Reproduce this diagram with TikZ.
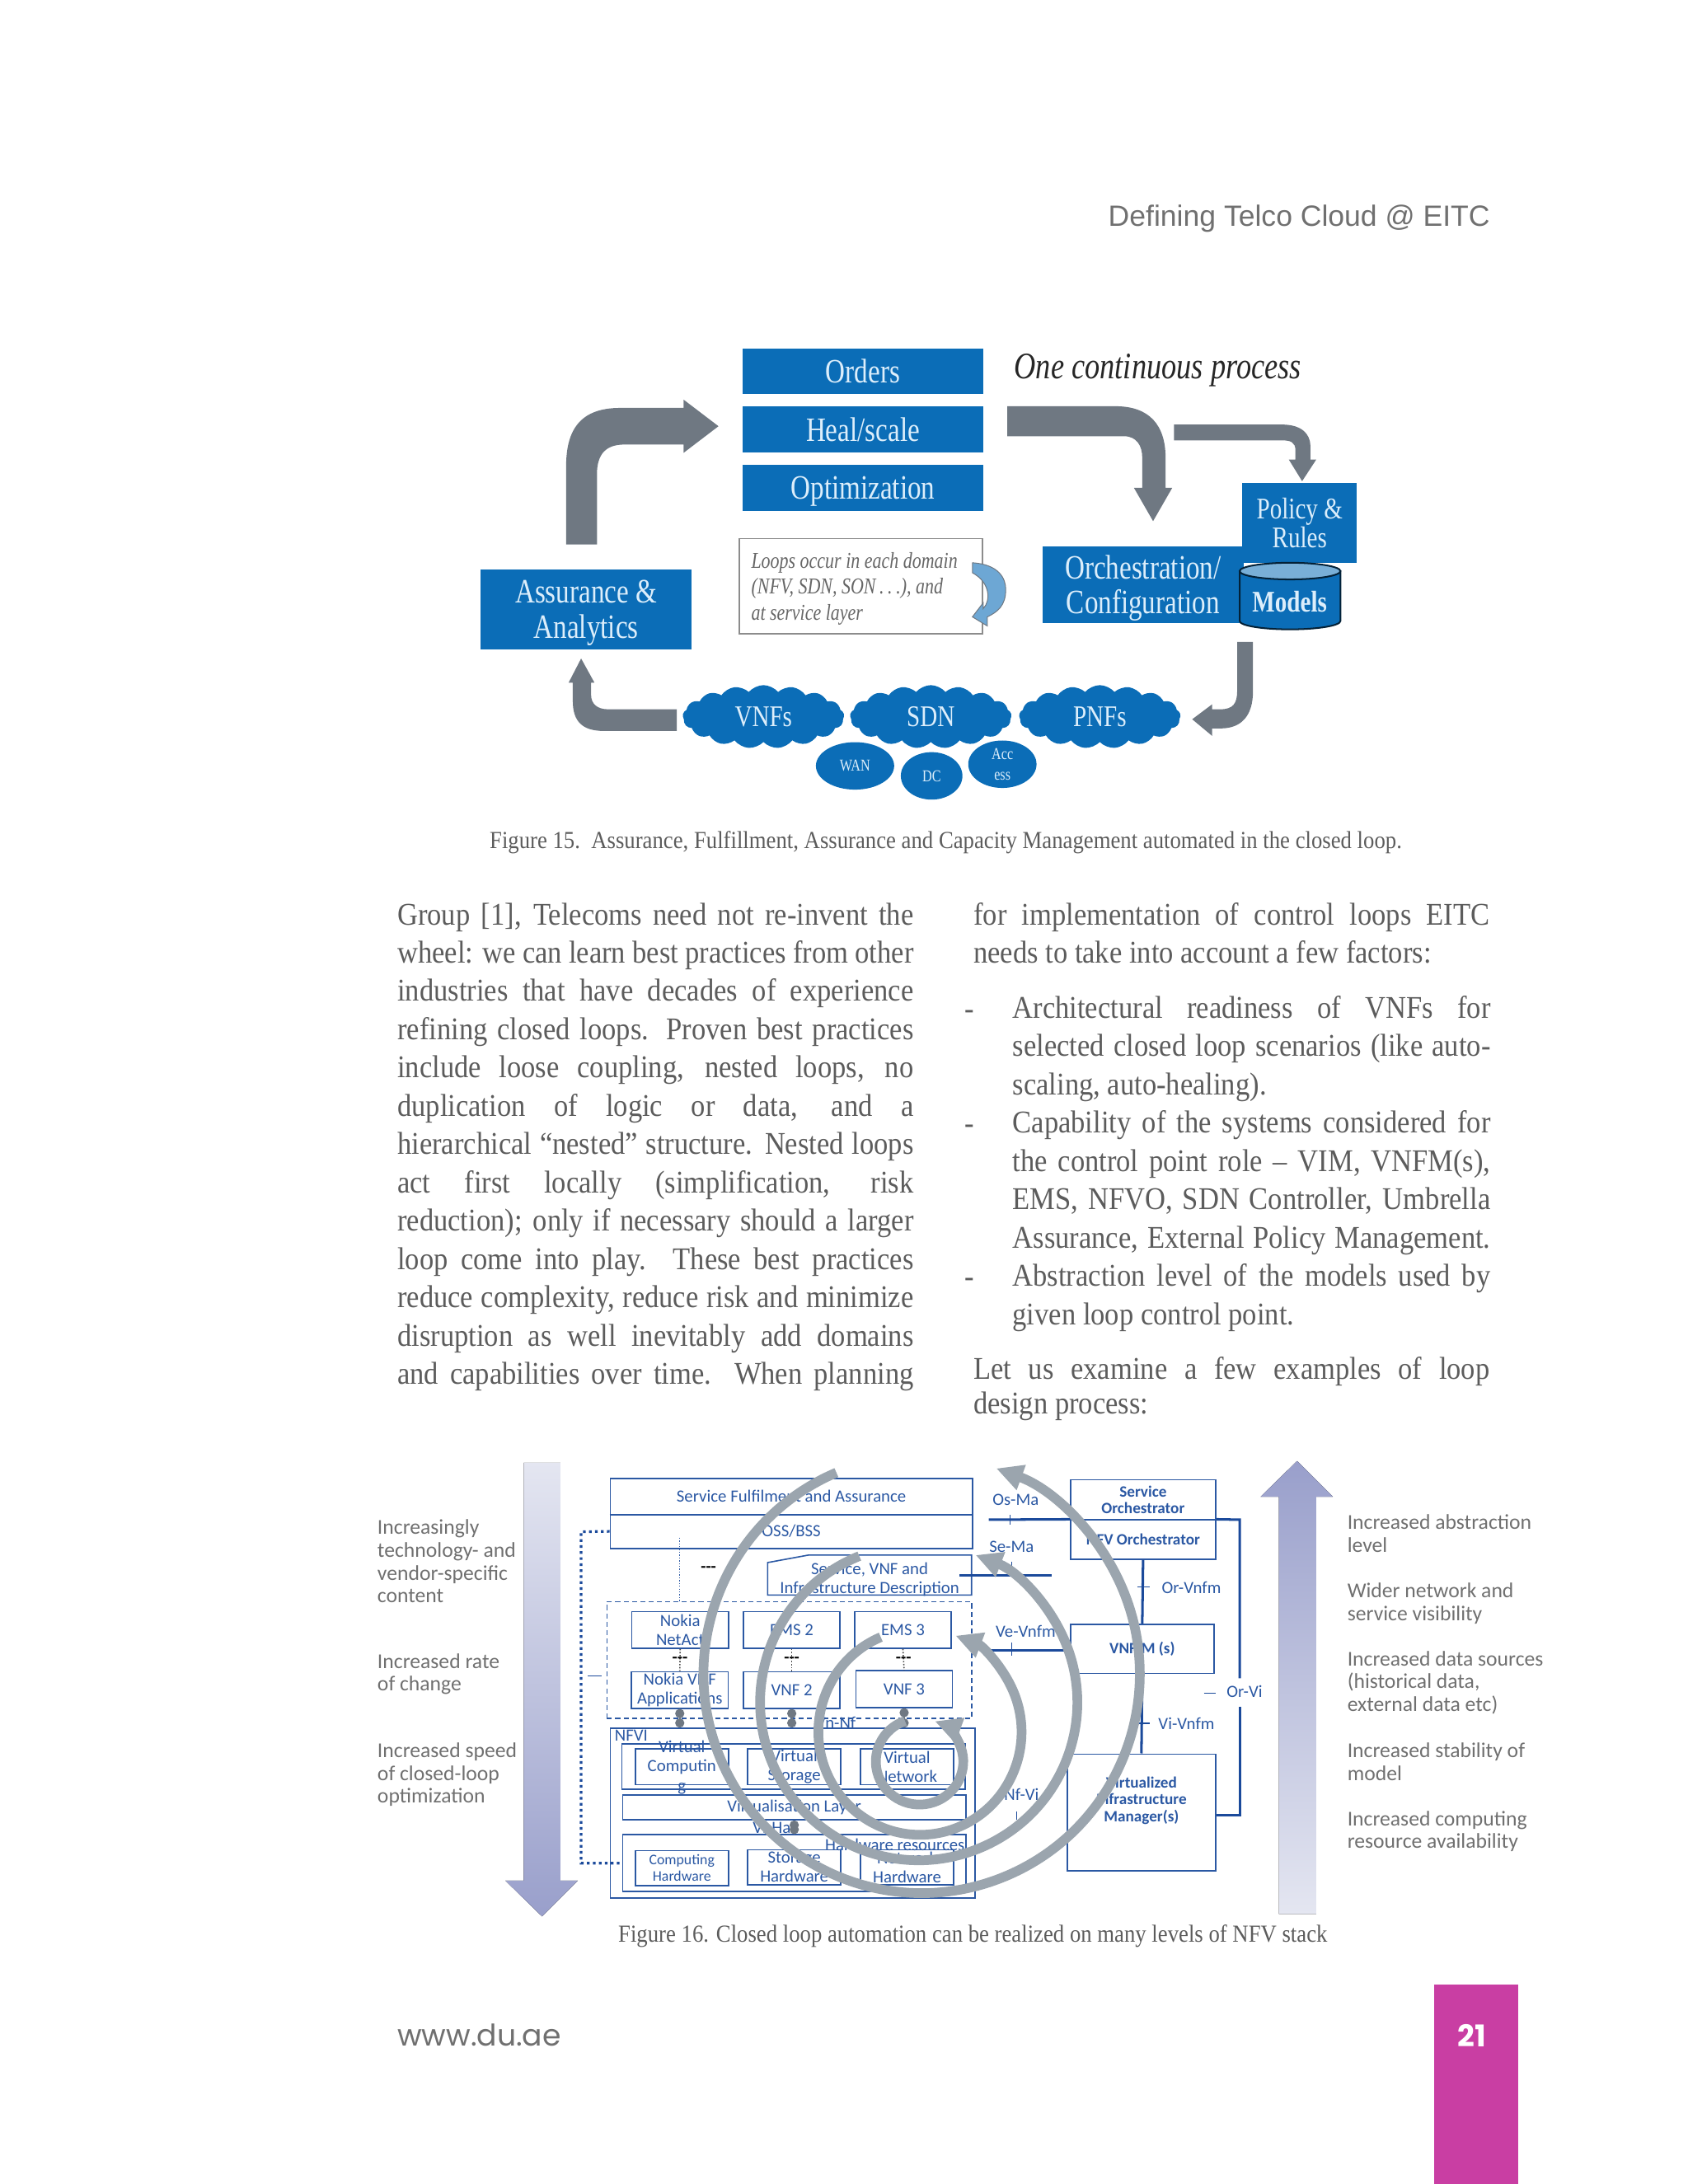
\documentclass[tikz,border=0pt]{standalone}
\usepackage{fontspec}
\setmainfont[FakeStretch=0.9]{Liberation Serif}
\setsansfont{Carlito}
\newfontfamily\figfont[FakeStretch=0.8]{Liberation Serif}
\newfontfamily\headfont{Liberation Sans}
\newfontfamily\footfont{Poppins}
\usetikzlibrary{shapes, shapes.geometric, shapes.symbols, arrows.meta, positioning, calc}
\definecolor{boxblue}{HTML}{0B6DB7}
\definecolor{softwhite}{HTML}{DCEEFB}
\definecolor{arrowgray}{HTML}{6F7882}
\definecolor{nfvblue}{HTML}{2B58A3}
\definecolor{busblue}{HTML}{1B4A9B}
\definecolor{spiralgray}{HTML}{9BA5AE}
\definecolor{labelgray}{HTML}{707070}
\definecolor{bodygray}{HTML}{5C5C5C}
\definecolor{stackhi}{HTML}{999FCB}
\definecolor{stacklo}{HTML}{E4E6F1}
\definecolor{pagepink}{HTML}{C93EA3}
\tikzstyle{block}=[fill=boxblue,text=softwhite,inner sep=0pt,align=center,text depth=0pt,font=\figfont\fontsize{20.5}{21}\selectfont]
\tikzstyle{puff}=[cloud,cloud puffs=17,cloud puff arc=100,aspect=2.6,fill=boxblue,text=softwhite,inner sep=0pt,minimum width=97pt,minimum height=38pt,font=\figfont\fontsize{18}{20}\selectfont]
\tikzstyle{blob}=[ellipse,fill=boxblue,text=softwhite,inner sep=0pt,align=center,font=\figfont\fontsize{10}{12.5}\selectfont]
\tikzstyle{flow}=[fill=arrowgray]
\tikzstyle{nfv}=[draw=nfvblue,line width=.8pt,inner sep=0pt,align=center,text=nfvblue,font=\sffamily\fontsize{10.3}{11.3}\selectfont]
\tikzstyle{small}=[text=nfvblue,inner sep=0pt,align=center,font=\sffamily\fontsize{10.3}{11.3}\selectfont]
\tikzstyle{bus}=[draw=busblue,line width=1.5pt]
\tikzstyle{tick}=[draw=busblue,line width=.7pt]
\tikzstyle{spiral}=[draw=spiralgray,line width=5.8pt,-{Triangle[length=16pt,width=15pt]}]
\tikzstyle{bell}=[draw=arrowgray,line width=1pt,{Circle[length=5.5pt]}-{Circle[length=5.5pt]}]
\tikzstyle{side}=[text=labelgray,inner sep=0pt,align=left,anchor=north west,font=\sffamily\fontsize{12.7}{13.7}\selectfont]
\tikzstyle{para}=[text=bodygray,inner sep=0pt,align=left,anchor=north west,font=\fontsize{19}{23}\selectfont]
\tikzstyle{note}=[text=bodygray,inner sep=0pt,font=\fontsize{14.7}{17}\selectfont]
\newcommand{\jl}[1]{\makebox[310pt][s]{#1}}
\newcommand{\jb}[1]{\makebox[287pt][s]{#1}}
\begin{document}
\begin{tikzpicture}[x=.5pt,y=-.5pt,>=latex,node distance=35pt]
  \useasboundingbox (0,0) rectangle (2027.5,2623.5);
  \node[text=labelgray,inner sep=0pt,anchor=east,font=\headfont\fontsize{17.6}{21}\selectfont] (title) at (1790,263) {Defining Telco Cloud @ EITC};

  \node[block,minimum width=144.5pt,minimum height=27.5pt] (orders) at (1036.5,446) {Orders};
  \node[block,minimum width=144.5pt,minimum height=27.5pt,below of=orders] (heal) {Heal/scale};
  \node[block,minimum width=144.5pt,minimum height=27.5pt,below of=heal] (optim) {Optimization};
  \node[text=black!85,inner sep=0pt,anchor=west,font=\figfont\itshape\fontsize{22.5}{25}\selectfont] (onepro) at (1218,445) {One continuous process};
  \node[draw=black!45,line width=.8pt,minimum width=146pt,minimum height=57pt,inner sep=0pt] (loopbox) at (1034,704) {};
  \node[text=black!60,inner sep=0pt,anchor=west,align=left,font=\figfont\itshape\fontsize{13.6}{15.5}\selectfont] (looptxt) at (902,707) {Loops occur in each domain\\(NFV, SDN, SON\,.\,.\,.), and\\at service layer};
  \node[block,minimum width=127pt,minimum height=48pt] (assure) at (704,732) {Assurance \&\\Analytics};
  \node[block,minimum width=120.5pt,minimum height=46pt] (orch) at (1373,702) {Orchestration/\\Configuration};
  \node[block,minimum width=69pt,minimum height=48pt,font=\figfont\fontsize{18}{17.5}\selectfont] (policy) at (1561,628) {Policy \&\\Rules};
  \filldraw[fill=boxblue,draw=black!70!boxblue,line width=1pt] (1489,686) -- (1489,746) arc[start angle=180,end angle=0,x radius=60.5,y radius=10] -- (1610,686) -- cycle;
  \filldraw[fill=boxblue!55!white,draw=black!70!boxblue,line width=1pt] (1549.5,686) ellipse[x radius=60.5,y radius=10];
  \node[text=softwhite,inner sep=0pt,font=\figfont\bfseries\fontsize{18}{20}\selectfont] (models) at (1549,723) {Models};
  \node[puff] (vnfs) at (917,861) {VNFs};
  \node[puff] (sdn) at (1118,861) {SDN};
  \node[puff] (pnfs) at (1321,861) {PNFs};
  \node[blob,minimum width=47pt,minimum height=28.5pt] (wan) at (1027,920) {WAN};
  \node[blob,minimum width=37pt,minimum height=28.5pt] (dc) at (1119,932) {DC};
  \node[blob,minimum width=41pt,minimum height=28.5pt] (access) at (1204,918) {Acc\\ess};
  \fill[flow] (680,654) -- (680,560) .. controls (680,515) and (698,490) .. (745,490) -- (821,490) -- (821,480) -- (863,512) -- (821,544) -- (821,534) -- (750,534) .. controls (728,534) and (717,545) .. (717,570) -- (717,654) -- cycle;
  \fill[flow] (1210,488) -- (1340,488) .. controls (1380,488) and (1400,510) .. (1400,550) -- (1400,586) -- (1408,586) -- (1385,626) -- (1362,586) -- (1372,586) -- (1372,550) .. controls (1372,535) and (1365,524) .. (1350,524) -- (1210,524) -- cycle;
  \fill[flow] (1410,510) -- (1540,510) .. controls (1563,510) and (1574,521) .. (1574,536) -- (1574,552) -- (1581,552) -- (1564,578) -- (1548,552) -- (1556,552) -- (1556,541) .. controls (1556,531) and (1550,529) .. (1540,529) -- (1410,529) -- cycle;
  \fill[flow] (1486,771) -- (1505,771) -- (1505,830) .. controls (1505,860) and (1491,875) .. (1466,875) -- (1456,875) -- (1456,884) -- (1432,864) -- (1456,846) -- (1456,852) -- (1466,852) .. controls (1481,852) and (1486,845) .. (1486,830) -- cycle;
  \fill[flow] (813,852) -- (730,852) .. controls (717,852) and (710,845) .. (710,835) -- (710,820) -- (714,820) -- (698,791) -- (683,820) -- (688,820) -- (688,842) .. controls (688,867) and (700,878) .. (725,878) -- (813,878) -- cycle;
  \filldraw[fill=boxblue!60!white,draw=arrowgray,line width=.5pt] (1168,676) .. controls (1200,678) and (1208,695) .. (1208,708) .. controls (1208,728) and (1198,735) .. (1186,741) -- (1186,752) -- (1168,741) -- (1181,724) -- (1181,731) .. controls (1190,722) and (1190,700) .. (1168,688) -- cycle;
  \node[note] (cap15) at (1136,1012) {Figure 15.\ \ Assurance, Fulfillment, Assurance and Capacity Management automated in the closed loop.};

  \node[para] (colleft) at (477,1084) {\jl{Group [1], Telecoms need not re-invent the}\\\jl{wheel: we can learn best practices from other}\\\jl{industries that have decades of experience}\\\jl{refining closed loops. Proven best practices}\\\jl{include loose coupling, nested loops, no}\\\jl{duplication of logic or data, and a}\\\jl{hierarchical ``nested'' structure. Nested loops}\\\jl{act first locally (simplification, risk}\\\jl{reduction); only if necessary should a larger}\\\jl{loop come into play. These best practices}\\\jl{reduce complexity, reduce risk and minimize}\\\jl{disruption as well inevitably add domains}\\\jl{and capabilities over time. When planning}};
  \node[para] (colright) at (1169,1084) {\jl{for implementation of control loops EITC}\\needs to take into account a few factors:};
  \node[para] (bullets) at (1216,1196) {\jb{Architectural readiness of VNFs for}\\\jb{selected closed loop scenarios (like auto-}\\scaling, auto-healing).\\\jb{Capability of the systems considered for}\\\jb{the control point role -- VIM, VNFM(s),}\\\jb{EMS, NFVO, SDN Controller, Umbrella}\\\jb{Assurance, External Policy Management.}\\\jb{Abstraction level of the models used by}\\given loop control point.};
  \node[para,anchor=west] (dash1) at (1158,1219) {-};
  \node[para,anchor=west] (dash2) at (1158,1357) {-};
  \node[para,anchor=west] (dash3) at (1158,1541) {-};
  \node[para] (colend) at (1169,1630) {\jl{Let us examine a few examples of loop}\\[-2.5pt]design process:};

  \fill[top color=stacklo,bottom color=stackhi] (629,1757) -- (673,1757) -- (673,2259) -- (694,2259) -- (651,2302) -- (607,2259) -- (629,2259) -- cycle;
  \fill[top color=stackhi,bottom color=stacklo] (1558,1755) -- (1601,1798) -- (1581,1798) -- (1581,2299) -- (1536,2299) -- (1536,1798) -- (1514,1798) -- cycle;
  \node[side] (leftone) at (453,1825) {Increasingly\\technology- and\\vendor-specific\\content};
  \node[side] (lefttwo) at (453,1986) {Increased rate\\of change};
  \node[side] (leftthree) at (453,2093) {Increased speed\\of closed-loop\\optimization};
  \node[side] (rightone) at (1618,1819) {Increased abstraction\\level};
  \node[side] (righttwo) at (1618,1901) {Wider network and\\service visibility};
  \node[side] (rightthree) at (1618,1983) {Increased data sources\\(historical data,\\external data etc)};
  \node[side] (rightfour) at (1618,2093) {Increased stability of\\model};
  \node[side] (rightfive) at (1618,2175) {Increased computing\\resource availability};

  \node[nfv,minimum width=217.5pt,minimum height=21.5pt] (sfa) at (950.5,1797.5) {Service Fulfilment and Assurance};
  \node[nfv,minimum width=217.5pt,minimum height=20.5pt] (oss) at (950.5,1839.5) {OSS/BSS};
  \draw[draw=nfvblue,line width=1.2pt] (sfa.south west) -- (sfa.south east);
  \draw[draw=nfvblue,line width=.8pt] (922,1916) -- (922,1877) -- (971,1868) -- (1167,1868) -- (1167,1916) -- cycle;
  \node[small] (desc) at (1044.5,1897) {Service, VNF and\\Infrastructure Description};
  \node[inner sep=0pt,font=\sffamily\bfseries\fontsize{10}{12}\selectfont] (gapdash) at (851,1885) {-{}-{}-};
  \node[draw=nfvblue,line width=.7pt,densely dashed,minimum width=219pt,minimum height=70pt,inner sep=0pt] (vnfarea) at (948,1994) {};
  \node[nfv,minimum width=58pt,minimum height=22pt] (ems1) at (817,1958) {Nokia\\NetAct};
  \node[nfv,minimum width=58pt,minimum height=22pt] (ems2) at (951,1958) {EMS 2};
  \node[nfv,minimum width=58pt,minimum height=22pt] (ems3) at (1084.5,1958) {EMS 3};
  \node[nfv,minimum width=58pt,minimum height=22pt] (vnf1) at (816.5,2030) {Nokia VNF\\Applications};
  \node[nfv,minimum width=58pt,minimum height=22pt] (vnf2) at (951,2030) {VNF 2};
  \node[nfv,minimum width=58pt,minimum height=22pt] (vnf3) at (1086,2029) {VNF 3};
  \draw[draw=nfvblue,line width=.7pt,densely dotted] (816,1847) -- (816,1924);
  \foreach \a/\b in {ems1/vnf1,ems2/vnf2,ems3/vnf3} {
    \draw[draw=black!70,line width=.8pt,densely dotted] (\a.south) -- (\b.north);
    \node[inner sep=0pt,font=\sffamily\bfseries\fontsize{10}{10}\selectfont] at ($(\a.south)!.5!(\b.north)$) {-{}-{}-};
  }
  \node[nfv,minimum width=219pt,minimum height=102pt] (nfvi) at (952,2178) {};
  \node[small,anchor=west] (nfvitxt) at (738,2085) {NFVI};
  \node[small] (vnnf) at (1004,2069) {Vn-Nf};
  \node[nfv,minimum width=206pt,minimum height=27pt] (virtrow) at (953,2122) {};
  \node[nfv,minimum width=56pt,minimum height=21.5pt] (vcomp) at (819,2122.5) {};
  \node[small,font=\sffamily\fontsize{10.3}{11.8}\selectfont] (vcomptxt) at (819,2123) {Virtual\\Computin\\g};
  \node[nfv,minimum width=56pt,minimum height=21.5pt] (vstor) at (954,2122.5) {Virtual\\Storage};
  \node[nfv,minimum width=56pt,minimum height=21.5pt] (vnet) at (1089.5,2122.5) {Virtual\\Network};
  \node[nfv,minimum width=206pt,minimum height=15pt] (vlayer) at (954,2171) {Virtualisation Layer};
  \node[small] (viha) at (927,2195) {Vi-Ha};
  \node[nfv,minimum width=206pt,minimum height=34pt] (hwrow) at (954,2238) {};
  \node[small,anchor=east] (hwtxt) at (1159,2216) {Hardware resources};
  \node[nfv,minimum width=56pt,minimum height=21pt,font=\sffamily\fontsize{8.8}{10}\selectfont] (hcomp) at (819,2244) {Computing\\Hardware};
  \node[nfv,minimum width=56pt,minimum height=21pt] (hstor) at (954,2243) {Storage\\Hardware};
  \node[nfv,minimum width=56pt,minimum height=21pt] (hnet) at (1089.5,2243) {Network\\Hardware};
  \coordinate (dotup) at (698,1840);
  \coordinate (dotdown) at (698,2238);
  \draw[draw=busblue,line width=1.6pt,dotted] (oss.west) -- (dotup) -- (dotdown) -- (hwrow.west |- dotdown);
  \coordinate (dashl) at (706,2013);
  \coordinate (dashr) at (723,2013);
  \draw[tick] (dashl) -- (dashr);
  \foreach \a/\b in {vnf1/vcomp,vnf2/vstor,vnf3/vnet} \draw[bell] (\a.south) -- (\a.south |- nfvi.north);
  \draw[bell] (vlayer.south) -- (vlayer.south |- hwrow.north);

  \node[nfv,minimum width=87pt,minimum height=24pt,font=\sffamily\bfseries\fontsize{9.5}{9.6}\selectfont] (serorch) at (1373,1801.5) {Service\\Orchestrator};
  \node[nfv,minimum width=87pt,minimum height=23.7pt,font=\sffamily\bfseries\fontsize{9.5}{11.3}\selectfont] (nfvo) at (1373,1849.5) {NFV Orchestrator};
  \node[nfv,minimum width=86pt,minimum height=29.5pt,font=\sffamily\bfseries\fontsize{9.5}{11.3}\selectfont] (vnfm) at (1372,1980.5) {VNF-M (s)};
  \node[nfv,minimum width=89pt,minimum height=70pt] (vim) at (1371,2177) {};
  \node[small,font=\sffamily\bfseries\fontsize{9.5}{10.3}\selectfont] (vimtxt) at (1371,2163) {Virtualized\\Infrastructure\\Manager(s)};
  \draw[bus] (nfvo.south) -- (vnfm.north);
  \draw[bus] (vnfm.south) -- (vim.north);
  \coordinate (osma) at (1187.5,1825.5);
  \coordinate (sema) at (1263.5,1892);
  \coordinate (vevnfm) at (1180,1982);
  \draw[bus] (osma) -- (nfvo.north west);
  \draw[bus] (desc.east |- sema) -- (sema);
  \draw[bus] (vevnfm) -- (vnfm.west |- vevnfm);
  \coordinate (orvia) at (1489,1825.5);
  \coordinate (orvib) at (1489,2016);
  \coordinate (orvic) at (1489,2050);
  \coordinate (orvid) at (1489,2180);
  \draw[bus] (nfvo.north east) -- (orvia) -- (orvib);
  \draw[bus] (orvic) -- (orvid) -- (vim.east |- orvid);
  \draw[tick] (1213,1820) -- (1213,1831);
  \draw[tick] (1215,1876) -- (1215,1892);
  \draw[tick] (1215,1973) -- (1215,1989);
  \draw[tick] (1366,1906) -- (1381,1906);
  \draw[tick] (1366,2070) -- (1381,2070);
  \draw[tick] (1446,2034) -- (1460,2034);
  \draw[tick] (1221,2176) -- (1221,2186);
  \node[small] (osmatxt) at (1220,1802) {Os-Ma};
  \node[small] (sematxt) at (1215,1858) {Se-Ma};
  \node[small] (vetxt) at (1232,1960) {Ve-Vnfm};
  \node[small,anchor=west] (orvnfmtxt) at (1395,1907) {Or-Vnfm};
  \node[small,anchor=west] (vivnfmtxt) at (1391,2070) {Vi-Vnfm};
  \node[small,anchor=west] (orvitxt) at (1473,2032) {Or-Vi};
  \node[small] (nfvitext) at (1227,2156) {Nf-Vi};

  \draw[spiral] (1107,2011) ++(-113:262 and 263) arc[start angle=-113,end angle=-430,x radius=262,y radius=263];
  \draw[spiral] (1103.5,2045) ++(-112:190.5 and 189.6) arc[start angle=-112,end angle=-429,x radius=190.5,y radius=189.6];
  \draw[spiral] (1105,2080.5) ++(-112.7:122 and 123.5) arc[start angle=-112.7,end angle=-429.5,x radius=122,y radius=123.5];
  \draw[spiral] (1104.5,2116) ++(-109.5:52.5 and 51.7) arc[start angle=-109.5,end angle=-429.5,x radius=52.5,y radius=51.7];

  \node[note] (cap16) at (1168.5,2326) {Figure 16. Closed loop automation can be realized on many levels of NFV stack};
  \node[text=labelgray,inner sep=0pt,anchor=west,font=\footfont\fontsize{17.9}{21}\selectfont] (www) at (477,2445) {www.du.ae};
  \node[fill=pagepink,minimum width=50.5pt,minimum height=120pt,inner sep=0pt] (pagebar) at (1773.5,2504) {};
  \node[text=white,inner sep=0pt,font=\footfont\bfseries\fontsize{18}{21}\selectfont] (pageno) at (1768,2445) {21};
\end{tikzpicture}
\end{document}
